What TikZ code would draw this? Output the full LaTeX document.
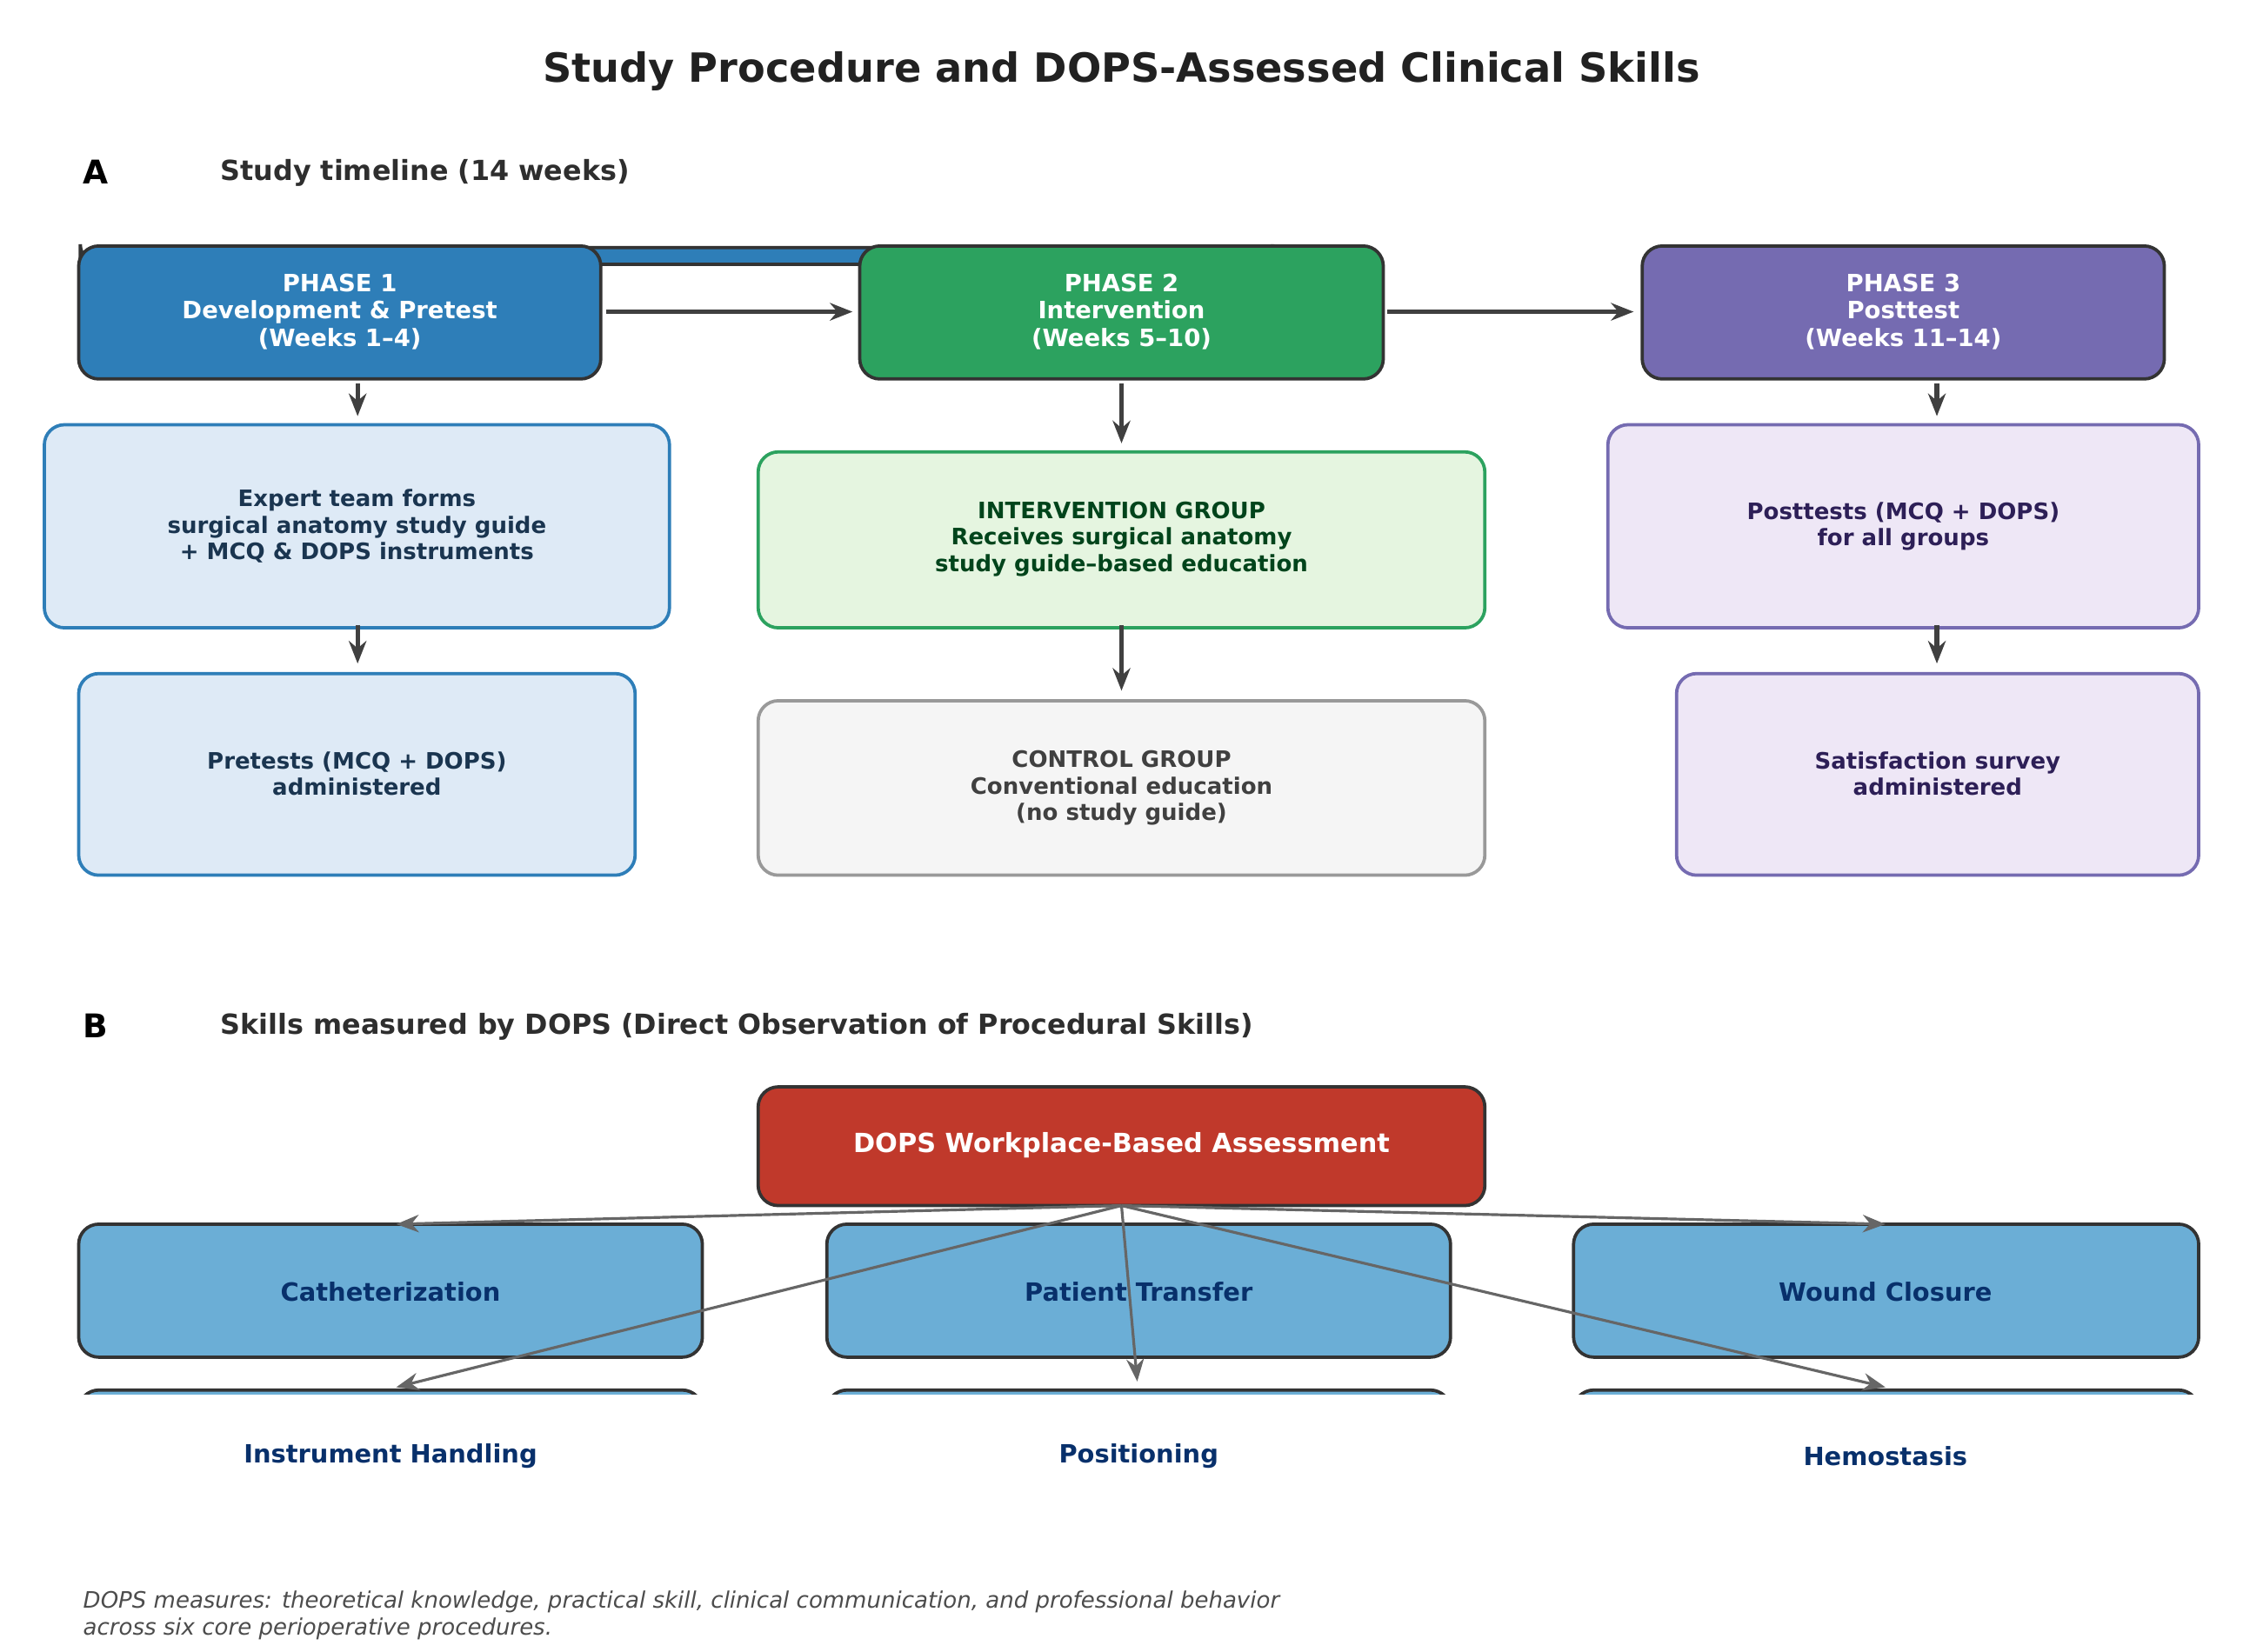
\documentclass[tikz,border=0pt]{standalone}
\usepackage{fontspec}
\setmainfont{DejaVu Sans}
\usetikzlibrary{arrows.meta,positioning}
\definecolor{pone}{HTML}{2E7EB8}
\definecolor{ptwo}{HTML}{2CA25F}
\definecolor{pthree}{HTML}{756BB1}
\definecolor{lone}{HTML}{DEEAF6}
\definecolor{ltwo}{HTML}{E5F5E0}
\definecolor{lthree}{HTML}{EEE7F6}
\definecolor{tone}{HTML}{1A3550}
\definecolor{ttwo}{HTML}{00441B}
\definecolor{tthree}{HTML}{2D1F57}
\definecolor{dops}{HTML}{C0392B}
\definecolor{skill}{HTML}{6BAED6}
\definecolor{tskill}{HTML}{08306B}
\tikzset{
  box/.style={rounded corners=8pt, line width=1.3pt, align=center, font=\bfseries\fontsize{9.5}{11}\selectfont, anchor=north west},
  phase/.style={box, draw=black!80, text=white},
  sub/.style={box, font=\bfseries\fontsize{9}{10.5}\selectfont},
  flow/.style={-{Stealth[length=9pt,width=7pt]}, line width=1.8pt, draw=black!75},
  link/.style={-{Stealth[length=9pt,width=7pt]}, line width=1.1pt, draw=black!60},
}
\begin{document}
\begin{tikzpicture}[x=0.02cm,y=-0.02cm]
\useasboundingbox (0,0) rectangle (1568,1155);
\node[font=\bfseries\fontsize{16}{19}\selectfont, text=black!87] (title) at (784,50) {Study Procedure and DOPS-Assessed Clinical Skills};
\node[font=\bfseries\fontsize{13}{15}\selectfont, anchor=west] (labA) at (52,120) {A};
\node[font=\bfseries\fontsize{11}{13}\selectfont, anchor=west, text=black!82] (headA) at (148,121) {Study timeline (14 weeks)};

% phases
\node[phase, fill=pone, minimum width=365\pgflinewidth] (p1) at (55,172) {};
\path[phase, fill=pone, draw=black!80] (55,172) rectangle (420,265);
\node[font=\bfseries\fontsize{9.5}{11}\selectfont, text=white, align=center] (p1t) at (237.5,218) {PHASE 1\\Development \& Pretest\\(Weeks 1--4)};
\path[phase, fill=ptwo, draw=black!80] (601,172) rectangle (967,265);
\node[font=\bfseries\fontsize{9.5}{11}\selectfont, text=white, align=center] (p2t) at (784,218) {PHASE 2\\Intervention\\(Weeks 5--10)};
\path[phase, fill=pthree, draw=black!80] (1148,172) rectangle (1513,265);
\node[font=\bfseries\fontsize{9.5}{11}\selectfont, text=white, align=center] (p3t) at (1330.5,218) {PHASE 3\\Posttest\\(Weeks 11--14)};

% second and third rows
\path[box, fill=lone, draw=pone] (31,297) rectangle (468,439);
\node[sub, anchor=center, text=tone] (s1) at (249.5,368) {Expert team forms\\surgical anatomy study guide\\+ MCQ \& DOPS instruments};
\path[box, fill=ltwo, draw=ptwo] (530,316) rectangle (1038,439);
\node[sub, anchor=center, text=ttwo] (s2) at (784,377) {INTERVENTION GROUP\\Receives surgical anatomy\\study guide--based education};
\path[box, fill=lthree, draw=pthree] (1124,297) rectangle (1537,439);
\node[sub, anchor=center, text=tthree] (s3) at (1330.5,368) {Posttests (MCQ + DOPS)\\for all groups};
\path[box, fill=lone, draw=pone] (55,471) rectangle (444,612);
\node[sub, anchor=center, text=tone] (t1) at (249.5,541) {Pretests (MCQ + DOPS)\\administered};
\path[box, fill=black!4, draw=black!40] (530,490) rectangle (1038,612);
\node[sub, anchor=center, text=black!75] (t2) at (784,551) {CONTROL GROUP\\Conventional education\\(no study guide)};
\path[box, fill=lthree, draw=pthree] (1172,471) rectangle (1537,612);
\node[sub, anchor=center, text=tthree] (t3) at (1354.5,541) {Satisfaction survey\\administered};

\coordinate (a1) at (424,218); \coordinate (a2) at (596,218);
\coordinate (a3) at (970,218); \coordinate (a4) at (1142,218);
\draw[flow] (a1) -- (a2);
\draw[flow] (a3) -- (a4);
\foreach \x/\ya/\yb/\yc/\yd in {250/268/291/437/464, 784/268/310/437/483, 1354/268/291/437/464}{
  \draw[flow] (\x,\ya) -- (\x,\yb);
  \draw[flow] (\x,\yc) -- (\x,\yd);
}

% part B
\node[font=\bfseries\fontsize{13}{15}\selectfont, anchor=west] (labB) at (52,717) {B};
\node[font=\bfseries\fontsize{11}{13}\selectfont, anchor=west, text=black!82] (headB) at (148,718) {Skills measured by DOPS (Direct Observation of Procedural Skills)};
\path[box, fill=dops, draw=black!80] (530,760) rectangle (1038,843);
\node[font=\bfseries\fontsize{10.5}{12}\selectfont, text=white] (dops) at (784,801) {DOPS Workplace-Based Assessment};

\begin{scope}
\clip (0,840) rectangle (1568,975);
\foreach \xa/\xb in {55/491, 578/1014, 1100/1537}{
  \path[box, fill=skill, draw=black!80] (\xa,856) rectangle (\xb,949);
  \path[box, fill=skill, draw=black!80] (\xa,972) rectangle (\xb,1065);
}
\end{scope}
\foreach \n/\x/\y/\t in {k1/273/903/Catheterization, k2/796/903/Patient Transfer, k3/1318/903/Wound Closure,
  k4/273/1018/Instrument Handling, k5/796/1018/Positioning, k6/1318/1018/Hemostasis}{
  \node[font=\bfseries\fontsize{10}{12}\selectfont, text=tskill] (\n) at (\x,\y) {\t};
}
\coordinate (src) at (784,843);
\foreach \x/\y in {277/856, 1318/856, 277/970, 795/966, 1318/970}{
  \draw[link] (src) -- (\x,\y);
}

\node[font=\itshape\fontsize{9}{11}\selectfont, text=black!70, anchor=north west, align=left] (note) at (52,1106) {DOPS measures: theoretical knowledge, practical skill, clinical communication, and professional behavior\\across six core perioperative procedures.};
\end{tikzpicture}
\end{document}
